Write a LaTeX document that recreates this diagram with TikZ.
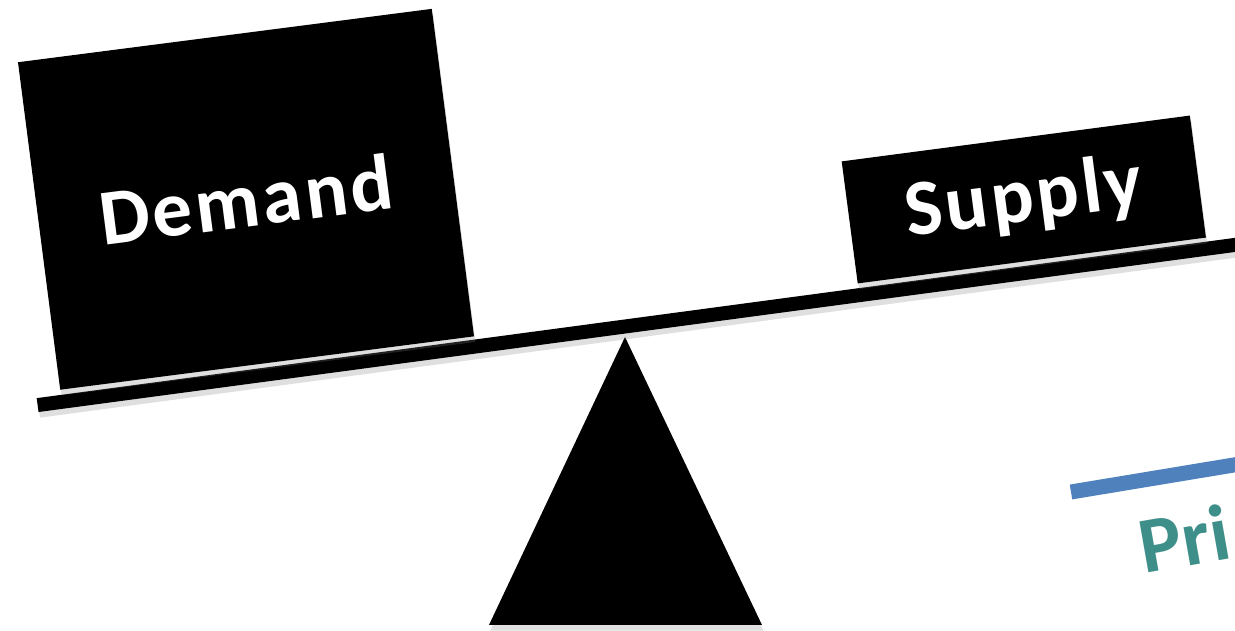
\documentclass[tikz,border=0pt]{standalone}
\usepackage{fontspec}
\usepackage{xcolor}
\usetikzlibrary{shadows}
\newfontfamily\weightfont[LetterSpace=4]{Carlito}
\newfontfamily\pricefont{Carlito}
\definecolor{priceteal}{RGB}{62,143,138}
\definecolor{priceblue}{RGB}{79,129,189}

\begin{document}
\begin{tikzpicture}[
    x=0.01cm, y=-0.01cm,
    font=\weightfont\bfseries\fontsize{22.6pt}{26pt}\selectfont,
    soft/.style={drop shadow={shadow xshift=0.4pt, shadow yshift=-1.6pt, opacity=0.25}},
    weight/.style={rectangle, fill=black, text=white, inner sep=0pt, soft},
    beam/.style={rectangle, fill=black, inner sep=0pt, minimum height=0.14cm, soft},
    pricebar/.style={line width=0.15cm, draw=priceblue},
    pricetext/.style={inner sep=0pt, text=priceteal, font=\pricefont\bfseries\fontsize{22.6pt}{27pt}\selectfont}
]
    \clip (0,0) rectangle (1235,631);
    \fill[white] (0,0) rectangle (1235,631);

    % fulcrum
    \coordinate (apex) at (625,337);
    \coordinate (baseL) at (489,625);
    \coordinate (baseR) at (762,625);
    \fill[soft] (apex) -- (baseL) -- (baseR) -- cycle;

    % beam and weights
    \node[beam, minimum width=12.33cm, rotate=7.62] (beam) at (649,323.3) {};
    \node[weight, minimum width=4.17cm, minimum height=3.30cm, rotate=7.35] (demand) at (246,199.3) {Demand};
    \node[weight, minimum width=3.51cm, minimum height=1.23cm, rotate=7.5] (supply) at (1023.8,199.5) {Supply};

    % price
    \coordinate (barL) at (1071,492);
    \coordinate (barR) at (1270,459);
    \draw[pricebar] (barL) -- (barR);
    \node[pricetext, anchor=base west, rotate=10] (price) at (1144,574) {Pri};
\end{tikzpicture}
\end{document}
